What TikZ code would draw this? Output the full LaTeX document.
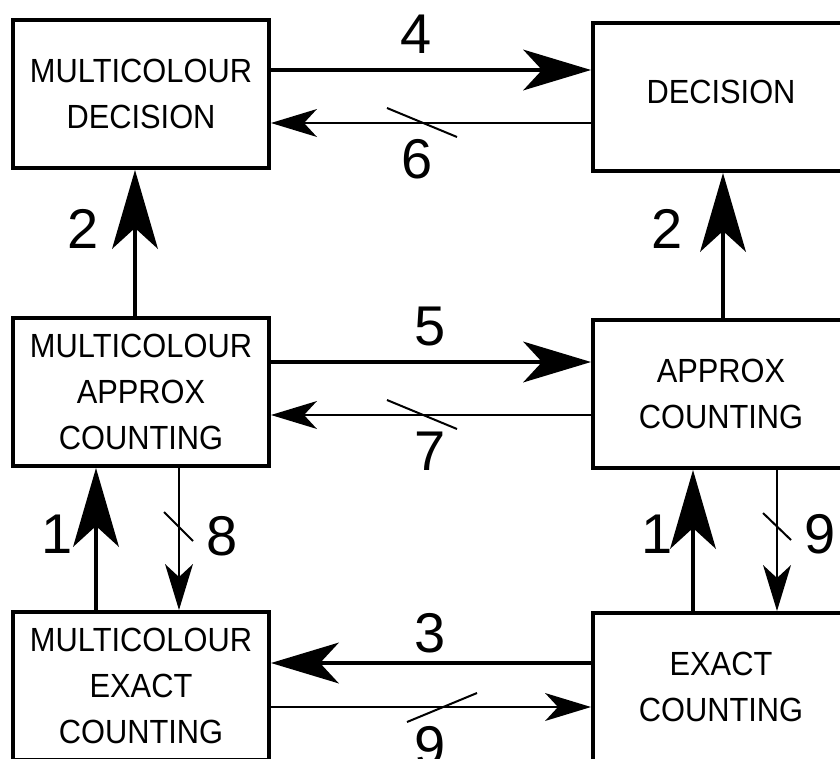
\documentclass[tikz,border=0pt]{standalone}
\usepackage{fontspec}
\setmainfont{Liberation Sans}
\newfontfamily\boxfont[FakeStretch=0.92]{Liberation Sans}
\usetikzlibrary{arrows.meta}
\tikzset{
  box/.style={draw, line width=4pt, minimum width=256pt, minimum height=148pt,
    inner sep=0pt, align=center, font=\boxfont\fontsize{33.5}{46}\selectfont},
  thickarr/.style={line width=4pt, -{Stealth[length=68pt,width=41pt,inset=19pt,line width=0pt]}},
  thickvarr/.style={line width=4pt, -{Stealth[length=79pt,width=46pt,inset=21pt,line width=0pt]}},
  thinarr/.style={line width=2pt, -{Stealth[length=46pt,width=28pt,inset=13pt,line width=0pt]}},
  slashmark/.style={line width=2pt},
  lbl/.style={font=\fontsize{56}{60}\selectfont, inner sep=0pt, anchor=base}
}
\begin{document}
\begin{tikzpicture}[x=1pt,y=-1pt]
\useasboundingbox (0,0) rectangle (840,758);
\clip (0,0) rectangle (840,758);
% boxes
\node[box] (md)  at (141,94)  {MULTICOLOUR\\DECISION};
\node[box, text depth=10pt] (dec) at (721,97)  {DECISION};
\node[box] (mac) at (141,392) {MULTICOLOUR\\APPROX\\COUNTING};
\node[box] (ac)  at (721,394) {APPROX\\COUNTING};
\node[box] (mec) at (141,686) {MULTICOLOUR\\EXACT\\COUNTING};
\node[box] (ec)  at (721,687) {EXACT\\COUNTING};
% horizontal connectors
\draw[thickarr] (md.east |- {(0,70)}) -- (dec.west |- {(0,70)});
\draw[thinarr]  (dec.west |- {(0,123)}) -- (md.east |- {(0,123)});
\draw[thickarr] (mac.east |- {(0,362)}) -- (ac.west |- {(0,362)});
\draw[thinarr]  (ac.west |- {(0,415)}) -- (mac.east |- {(0,415)});
\draw[thickarr] (ec.west |- {(0,663)}) -- (mec.east |- {(0,663)});
\draw[thinarr]  (mec.east |- {(0,707)}) -- (ec.west |- {(0,707)});
% vertical connectors
\draw[thickvarr] (mac.north -| {(135,0)}) -- (md.south -| {(135,0)});
\draw[thickvarr] (ac.north -| {(723,0)}) -- (dec.south -| {(723,0)});
\draw[thickvarr] (mec.north -| {(96,0)}) -- (mac.south -| {(96,0)});
\draw[thinarr]   (mac.south -| {(179,0)}) -- (mec.north -| {(179,0)});
\draw[thickvarr] (ec.north -| {(693,0)}) -- (ac.south -| {(693,0)});
\draw[thinarr]   (ac.south -| {(777,0)}) -- (ec.north -| {(777,0)});
% slash marks
\draw[slashmark] (387,108) -- (457,137);
\draw[slashmark] (387,400) -- (457,429);
\draw[slashmark] (407,722) -- (477,693);
\draw[slashmark] (164,512) -- (193,541);
\draw[slashmark] (763,513) -- (791,540);
% labels
\node[lbl] (l4) at (416,53) {4};
\node[lbl] (l6) at (417,178) {6};
\node[lbl] (l5) at (430,345) {5};
\node[lbl] (l7) at (430,470) {7};
\node[lbl] (l3) at (430,652) {3};
\node[lbl] (l9b) at (430,765) {9};
\node[lbl] (l2a) at (83,248) {2};
\node[lbl] (l2b) at (667,248) {2};
\node[lbl] (l1a) at (57,553) {1};
\node[lbl] (l8) at (222,555) {8};
\node[lbl] (l1b) at (657,553) {1};
\node[lbl] (l9r) at (820,553) {9};
\end{tikzpicture}
\end{document}
